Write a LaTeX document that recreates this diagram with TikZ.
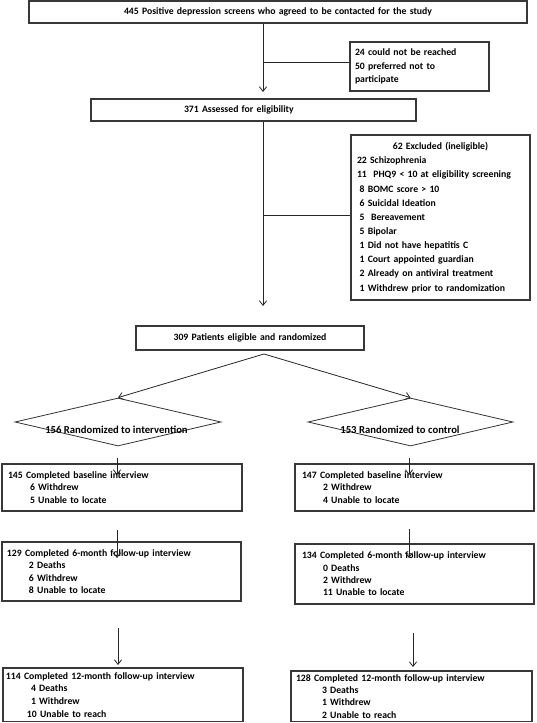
\documentclass[tikz,border=0pt]{standalone}
\usepackage{fontspec}
\setmainfont{Carlito}
\usetikzlibrary{shapes.geometric,arrows.meta}
\begin{document}
\begin{tikzpicture}[x=0.75pt,y=-0.75pt,
  box/.style={draw=black!78, line width=0.8pt, rectangle, inner ysep=0pt, align=left,
    font=\bfseries\fontsize{7.3}{9.2}\selectfont},
  dia/.style={draw=black!80, line width=0.6pt, diamond, inner sep=0pt},
  lbl/.style={font=\bfseries\fontsize{8}{9}\selectfont, inner sep=0pt},
  conn/.style={draw=black!85, line width=0.6pt},
  arr/.style={conn, -{Straight Barb[length=3.5pt,width=5.5pt]}}]
\useasboundingbox (0,0) rectangle (536,723);

% top boxes
\node[box, align=center, text width=367.5pt, inner xsep=3pt, minimum height=16.5pt] (screen) at (278,12)
  {445 Positive depression screens who agreed to be contacted for the study};
\node[box, text width=96.75pt, inner xsep=3.75pt, minimum height=36.75pt,
  font=\bfseries\fontsize{7.3}{10.3}\selectfont] (notreached) at (419.5,66.5)
  {24 could not be reached\\50 preferred not to\\participate};
\node[box, text width=237.75pt, inner xsep=3pt, minimum height=16.5pt] (assessed) at (253.5,110)
  {\hspace*{66.75pt}371 Assessed for eligibility};
\node[box, text width=125.25pt, inner xsep=4.5pt, minimum height=123.75pt,
  font=\bfseries\fontsize{7.3}{10.6}\selectfont] (excluded) at (440.5,217.5)
  {\hbox to \hsize{\hss 62 Excluded (ineligible)\hss}\\
   22 Schizophrenia\\
   11\ \ PHQ9 < 10 at eligibility screening\\
   \hspace*{2pt}8 BOMC score > 10\\
   \hspace*{2pt}6 Suicidal Ideation\\
   \hspace*{2pt}5\ \ Bereavement\\
   \hspace*{2pt}5 Bipolar\\
   \hspace*{2pt}1 Did not have hepatitis C\\
   \hspace*{2pt}1 Court appointed guardian\\
   \hspace*{2pt}2 Already on antiviral treatment\\
   \hspace*{2pt}1 Withdrew prior to randomization};
\node[box, align=center, text width=165pt, inner xsep=3pt, minimum height=18pt] (randomized) at (250,338)
  {309 Patients eligible and randomized};

% diamonds
\node[dia, minimum width=154.5pt, minimum height=36pt] (dint) at (118,422) {};
\node[dia, minimum width=153.75pt, minimum height=36pt] (dctl) at (410.5,422) {};
\node[lbl] (tint) at (116.5,430) {156 Randomized to intervention};
\node[lbl] (tctl) at (400,430) {153 Randomized to control};

% intervention arm
\node[box, text width=171pt, inner xsep=4.5pt, minimum height=35.25pt] (ibase) at (122,487.5)
  {145 Completed baseline interview\\
   \hspace*{16.5pt}6 Withdrew\\
   \hspace*{16.5pt}5 Unable to locate};
\node[box, text width=171.75pt, inner xsep=3.75pt, minimum height=44.25pt] (isix) at (121.5,571.5)
  {129 Completed 6-month follow-up interview\\
   \hspace*{16.5pt}2 Deaths\\
   \hspace*{16.5pt}6 Withdrew\\
   \hspace*{16.5pt}8 Unable to locate};
\node[box, text width=175.5pt, inner xsep=2.25pt, minimum height=40.125pt,
  font=\bfseries\fontsize{7.3}{9.45}\selectfont] (itwelve) at (123,694.75)
  {114 Completed 12-month follow-up interview\\
   \hspace*{18.75pt}4 Deaths\\
   \hspace*{18.75pt}1 Withdrew\\
   \hspace*{15.75pt}10 Unable to reach};

% control arm
\node[box, text width=168.75pt, inner xsep=5.25pt, minimum height=35.25pt] (cbase) at (414.5,487.5)
  {147 Completed baseline interview\\
   \hspace*{15.75pt}2 Withdrew\\
   \hspace*{15.75pt}4 Unable to locate};
\node[box, text width=168.75pt, inner xsep=5.25pt, minimum height=45pt] (csix) at (414.5,574)
  {134 Completed 6-month follow-up interview\\
   \hspace*{15.75pt}0 Deaths\\
   \hspace*{15.75pt}2 Withdrew\\
   \hspace*{15.75pt}11 Unable to locate};
\node[box, text width=173.25pt, inner xsep=3.75pt, minimum height=37.875pt] (ctwelve) at (411.5,696.25)
  {128 Completed 12-month follow-up interview\\
   \hspace*{19.5pt}3 Deaths\\
   \hspace*{19.5pt}1 Withdrew\\
   \hspace*{19.5pt}2 Unable to reach};

% connector points
\coordinate (t1) at (263,92);
\coordinate (j1) at (263,62);
\coordinate (t2) at (263,306);
\coordinate (j2) at (263,215);
\coordinate (sp) at (264,354);
\coordinate (s1) at (117,458); \coordinate (e1) at (117,475);
\coordinate (s2) at (409,458); \coordinate (e2) at (409,475);
\coordinate (s3) at (117,530); \coordinate (e3) at (117,558);
\coordinate (s4) at (409,529); \coordinate (e4) at (409,558);
\coordinate (s5) at (118,628); \coordinate (e5) at (118,665);
\coordinate (s6) at (413,633); \coordinate (e6) at (413,667);

% connectors
\draw[arr] (screen.south -| t1) -- (t1);
\draw[conn] (j1) -- (j1 -| notreached.west);
\draw[arr] (assessed.south -| t2) -- (t2);
\draw[conn] (j2) -- (j2 -| excluded.west);
\draw[arr] (sp) -- (dint.north);
\draw[arr] (sp) -- (dctl.north);
\draw[arr] (s1) -- (e1);
\draw[arr] (s2) -- (e2);
\draw[arr] (s3) -- (e3);
\draw[arr] (s4) -- (e4);
\draw[arr] (s5) -- (e5);
\draw[arr] (s6) -- (e6);
\end{tikzpicture}
\end{document}
